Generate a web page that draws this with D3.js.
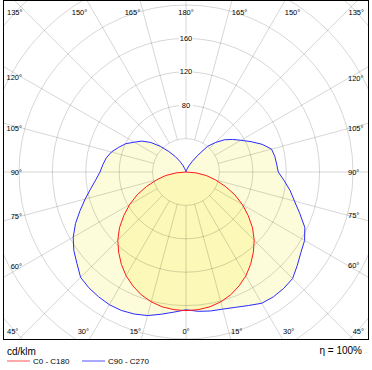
<!DOCTYPE html>
<html>
<head>
<meta charset="utf-8">
<script src="https://cdn.jsdelivr.net/npm/d3@7"></script>
<style>
  body { margin: 0; background: #fff; }
  svg text { font-family: "Liberation Sans", Arial, sans-serif; fill: #000; }
</style>
</head>
<body>
<div id="polar"></div>
<script>
// gamma angles, 0 = straight down, 180 = straight up
var gammaRed = [0, 5, 10, 15, 20, 25, 30, 35, 40, 45, 50, 55, 60, 65, 70, 75, 80, 85, 90]
var c0c180 = [166, 165.5, 164, 161, 156.5, 150.5, 143.5, 135, 125.5, 115.5, 104, 91, 78, 64.5, 50, 36.5, 25, 12, 0]

var gammaBlue = [0, 5, 10, 15, 20, 25, 30, 35, 40, 45, 50, 55, 60, 65, 70, 75, 80, 85, 90,
    95, 100, 105, 110, 115, 120, 125, 130, 135, 140, 145, 150, 155, 160, 165, 170, 175, 180]
var c90 = [165, 167.5, 169, 170, 172.5, 176.5, 181.5, 182.5, 182, 180.5, 174, 168, 164, 157, 145, 134.5, 126.5, 118, 110.5,
    109, 108, 106, 97, 86, 76, 68, 60, 50, 40, 24, 14, 8, 4, 1.5, 0, 0, 0]
var c270 = [165, 168.5, 173, 178, 181, 183, 183.5, 182.5, 181, 178.5, 170.5, 164, 156, 146, 135, 125, 116, 108.5, 103,
    100, 97, 92.5, 86, 80, 71.5, 64.5, 55, 43.5, 32, 23, 15, 9, 4, 1.5, 0, 0, 0]

var ringValues = [40, 80, 120, 160, 200, 240, 280]
var ringLabels = [80, 120, 160]
var spokeAngles = [0, 15, 30, 45, 60, 75, 90, 105, 120, 135, 150, 165, 180]
var legendNames = ["C0 - C180", "C90 - C270"]
var unitLabel = "cd/klm"
var lorLabel = "\u03b7 = 100%"

var W = 372, H = 370
var frame = { x: 3, y: 1, w: 365, h: 339 }
var cx = 186, cy = 172

var svg = d3.select("#polar").append("svg")
    .attr("width", W).attr("height", H)

var r = d3.scaleLinear().domain([0, 200]).range([0, 167])

svg.append("clipPath").attr("id", "clipFrame")
    .append("rect")
    .attr("x", frame.x).attr("y", frame.y)
    .attr("width", frame.w).attr("height", frame.h)

var g = svg.append("g").attr("clip-path", "url(#clipFrame)")
var plot = g.append("g").attr("transform", "translate(" + cx + "," + cy + ")")

var toRad = Math.PI / 180
// left side (C180 / C270): angle = 180 + gamma ; right side (C0 / C90): angle = 180 - gamma
function halfPoints(gammas, values, side) {
    return gammas.map(function (gm, i) {
        return { a: side < 0 ? (180 + gm) * toRad : (180 - gm) * toRad, v: values[i] }
    })
}
var radial = d3.lineRadial()
    .angle(d => d.a)
    .radius(d => r(d.v))
    .curve(d3.curveLinearClosed)

var bluePts = halfPoints(gammaBlue, c270, -1).reverse().concat(halfPoints(gammaBlue, c90, 1).slice(1))
var redPts = halfPoints(gammaRed, c0c180, -1).reverse().concat(halfPoints(gammaRed, c0c180, 1).slice(1))

// fills first
plot.append("path").attr("d", radial(bluePts)).attr("fill", "#fdfcda")
plot.append("path").attr("d", radial(redPts)).attr("fill", "#fcf8b8")

// rings
plot.selectAll(".ring")
    .data(ringValues)
    .enter()
    .append("circle")
    .attr("r", d => r(d))
    .attr("fill", "none")
    .attr("stroke", "rgba(0,0,0,0.16)")
    .attr("stroke-width", 1)

// spokes, both halves, starting at first ring
var spokes = []
spokeAngles.forEach(function (gm) {
    spokes.push((180 + gm) * toRad)
    if (gm > 0 && gm < 180) spokes.push((180 - gm) * toRad)
})
plot.selectAll(".spoke")
    .data(spokes)
    .enter()
    .append("line")
    .attr("x1", a => r(40) * Math.sin(a))
    .attr("y1", a => -r(40) * Math.cos(a))
    .attr("x2", a => r(320) * Math.sin(a))
    .attr("y2", a => -r(320) * Math.cos(a))
    .attr("stroke", "rgba(0,0,0,0.16)")
    .attr("stroke-width", 1)

// curves
plot.append("path").attr("d", radial(bluePts))
    .attr("fill", "none").attr("stroke", "#2a2aff").attr("stroke-width", 1)
plot.append("path").attr("d", radial(redPts))
    .attr("fill", "none").attr("stroke", "#ff1a1a").attr("stroke-width", 1)

// ring labels on the vertical axis
var rl = plot.selectAll(".rlab")
    .data(ringLabels)
    .enter()
    .append("g")
    .attr("transform", d => "translate(0," + (-r(d)) + ")")
rl.append("rect")
    .attr("x", -7).attr("y", -4).attr("width", 14).attr("height", 8)
    .attr("fill", "#fff")
rl.append("text")
    .attr("text-anchor", "middle")
    .attr("y", 2.6)
    .attr("font-size", 7.5)
    .text(d => d)

// angle labels round the frame
var labels = []
spokeAngles.forEach(function (gm) {
    var sides = (gm == 0 || gm == 180) ? [0] : [-1, 1]
    sides.forEach(function (s) { labels.push({ gm: gm, s: s }) })
})
var alab = svg.selectAll(".alab")
    .data(labels)
    .enter()
    .append("text")
    .attr("font-size", 7.5)
    .text(d => d.gm + "\u00b0")
alab.each(function (d) {
    var t = d3.select(this), x, y, anchor
    var len = this.getComputedTextLength()
    if (d.gm <= 45 || d.gm >= 135) {
        var bottom = d.gm <= 45
        var dy = bottom ? (frame.y + frame.h - cy) : (cy - frame.y)
        var dx = dy * Math.tan((bottom ? d.gm : 180 - d.gm) * toRad)
        x = cx + d.s * dx
        y = bottom ? 334 : 14.5
        anchor = d.s < 0 ? "end" : (d.s > 0 ? "start" : "middle")
        if (d.s < 0 && x - len < 7) x = 7 + len
        if (d.s > 0 && x + len > 364) x = 364 - len
    } else {
        var ddx = d.s < 0 ? cx - 22 : 348 - cx
        y = cy - ddx * Math.tan((d.gm - 90) * toRad) + 2.7
        x = d.s < 0 ? 22 : 348
        anchor = d.s < 0 ? "end" : "start"
    }
    t.attr("x", x).attr("y", y).attr("text-anchor", anchor)
})

// frame
svg.append("rect")
    .attr("x", frame.x + 0.5).attr("y", frame.y - 0.5)
    .attr("width", frame.w).attr("height", frame.h)
    .attr("fill", "none").attr("stroke", "#000").attr("stroke-width", 1)

// legend
svg.append("text").attr("x", 7).attr("y", 355).attr("font-size", 10).text(unitLabel)
svg.append("text").attr("x", 362).attr("y", 354).attr("font-size", 10)
    .attr("text-anchor", "end").text(lorLabel)

var legendColors = ["#ff8c8c", "#8c8cff"]
var lg = svg.selectAll(".leg")
    .data(legendNames)
    .enter()
    .append("g")
    .attr("transform", (d, i) => "translate(" + (7 + i * 75) + ",0)")
lg.append("line")
    .attr("x1", 0).attr("x2", 23)
    .attr("y1", 361).attr("y2", 361)
    .attr("stroke", (d, i) => legendColors[i])
    .attr("stroke-width", 1.5)
lg.append("text")
    .attr("x", 26).attr("y", 364)
    .attr("font-size", 8)
    .text(d => d)
</script>
</body>
</html>
